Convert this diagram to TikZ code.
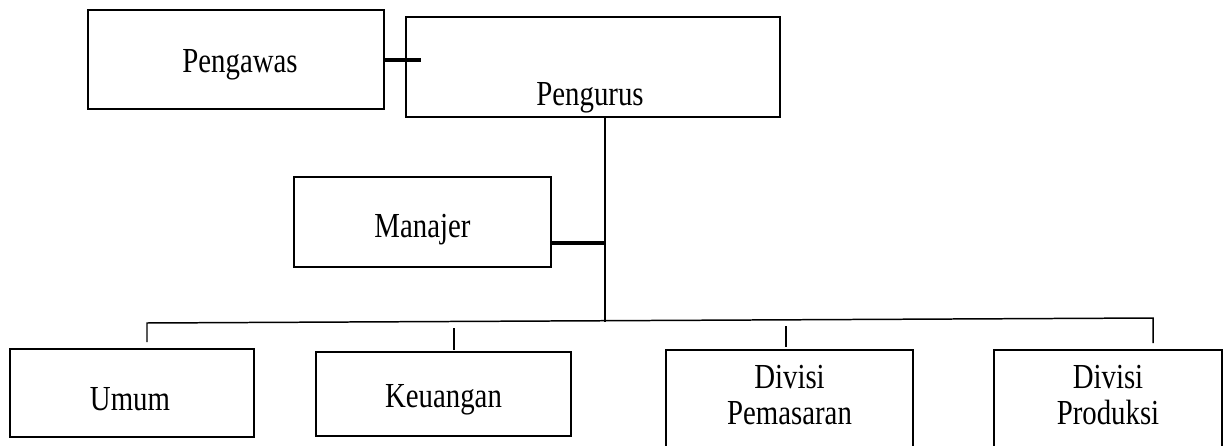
\documentclass[tikz,border=0pt]{standalone}
\usepackage{fontspec}
\setmainfont{Liberation Serif}[FakeStretch=0.82]
\usepackage{tikz}
\usetikzlibrary{positioning,calc}

\begin{document}
\begin{tikzpicture}[
    every node/.style={font=\fontsize{20}{20.5}\selectfont, align=center, inner sep=2pt},
    unit/.style={draw=black, line width=1.1pt, fill=white},
    link/.style={draw=black, line width=0.85pt},
    heavylink/.style={draw=black, line width=2.3pt}
  ]
    \useasboundingbox (0,0) rectangle (24.62,-8.92);
    % Top level
    \node[unit, minimum width=5.92cm, minimum height=1.98cm] (pengawas) at (4.72,-1.19) {};
    \node[unit, minimum width=7.48cm, minimum height=2.00cm] (pengurus) at (11.86,-1.34) {};
    \node[unit, minimum width=5.14cm, minimum height=1.80cm] (manajer) at (8.45,-4.44) {};
    % Bottom level
    \node[unit, minimum width=4.88cm, minimum height=1.76cm] (umum) at (2.64,-7.86) {};
    \node[unit, minimum width=5.10cm, minimum height=1.68cm] (keuangan) at (8.87,-7.88) {};
    \node[unit, minimum width=4.94cm, minimum height=1.96cm] (pemasaran) at (15.79,-7.98) {};
    \node[unit, minimum width=4.56cm, minimum height=1.96cm] (produksi) at (22.16,-7.98) {};
    % Texts
    \node (pengawas-txt) at (4.80,-1.29) {Pengawas};
    \node (pengurus-txt) at (11.80,-1.95) {Pengurus};
    \node (manajer-txt) at (8.45,-4.59) {Manajer};
    \node (umum-txt) at (2.60,-7.99) {Umum};
    \node (keuangan-txt) at (8.87,-7.99) {Keuangan};
    \node (pemasaran-txt) at (15.79,-7.90) {Divisi\\Pemasaran};
    \node (produksi-txt) at (22.16,-7.90) {Divisi\\Produksi};
    % Joints
    \coordinate (pgws-end) at (8.42,-1.20);
    \coordinate (mjr-join) at (12.10,-4.86);
    \coordinate (spine) at (12.10,-6.44);
    \coordinate (bus-l) at (2.94,-6.46);
    \coordinate (bus-r) at (23.06,-6.36);
    \coordinate (umum-top) at (2.94,-6.84);
    \coordinate (keu-top) at (9.08,-6.56);
    \coordinate (keu-bot) at (9.08,-7.00);
    \coordinate (pms-top) at (15.72,-6.52);
    \coordinate (pms-bot) at (15.72,-6.94);
    \coordinate (prd-top) at (23.06,-6.86);
    % Lines
    \draw[heavylink] (pengawas.east |- pgws-end) -- (pgws-end);
    \draw[link] (pengurus.south -| spine) -- (spine);
    \draw[heavylink] (manajer.east |- mjr-join) -- (mjr-join);
    \draw[link] (umum-top) -- (bus-l) -- (bus-r) -- (prd-top);
    \draw[link] (keu-top) -- (keu-bot);
    \draw[link] (pms-top) -- (pms-bot);
  \end{tikzpicture}
\end{document}
